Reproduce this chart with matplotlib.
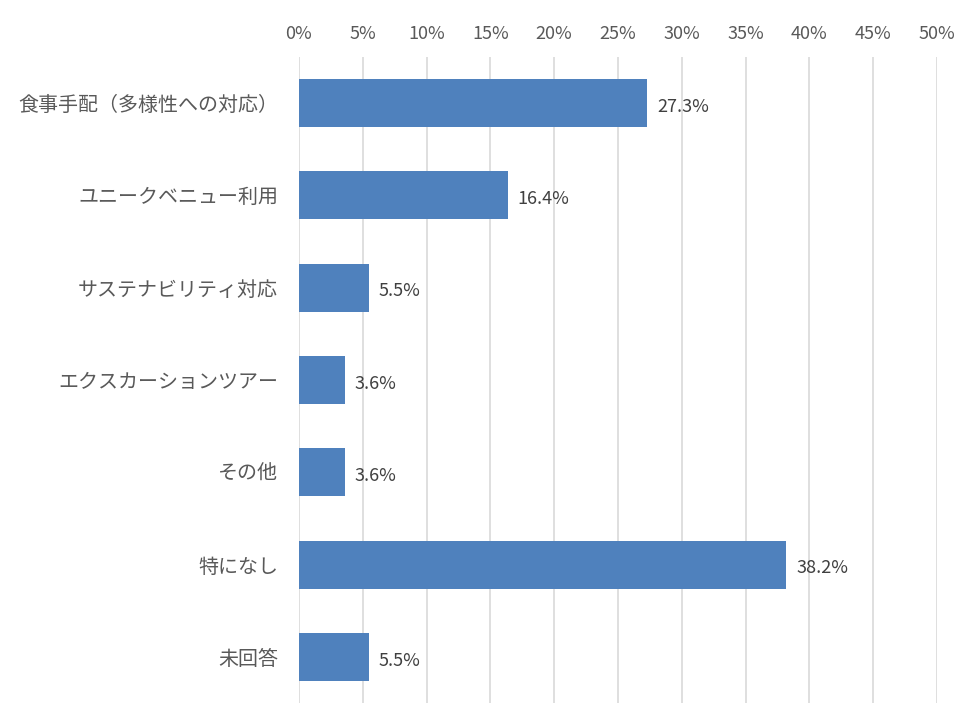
import matplotlib
matplotlib.use("Agg")
import matplotlib.pyplot as plt
from matplotlib.ticker import MultipleLocator, FuncFormatter

plt.rcParams['font.family'] = ['Noto Sans CJK JP', 'DejaVu Sans']

# survey answers, top to bottom
categories = [
    "食事手配（多様性への対応）",
    "ユニークベニュー利用",
    "サステナビリティ対応",
    "エクスカーションツアー",
    "その他",
    "特になし",
    "未回答",
]
shares = [27.3, 16.4, 5.5, 3.6, 3.6, 38.2, 5.5]

bar_color = "#4F81BD"
text_color = "#595959"
grid_color = "#D9D9D9"

fig = plt.figure(figsize=(9.66, 7.24), dpi=100)
ax = fig.add_axes([0.3095, 0.029, 0.6605, 0.8923])

ypos = list(range(len(categories)))
ax.barh(ypos, shares, height=0.52, color=bar_color, zorder=3)

for y, v in zip(ypos, shares):
    ax.text(v + 0.75, y + 0.04, f"{v:.1f}%", va="center", ha="left",
            fontsize=13, color="#404040")

ax.set_xlim(0, 50)
ax.set_ylim(len(categories) - 0.5, -0.5)
ax.set_yticks(ypos)
ax.set_yticklabels(categories, fontsize=14.4, color=text_color)

ax.xaxis.set_major_locator(MultipleLocator(5))
ax.xaxis.set_major_formatter(FuncFormatter(lambda x, _: f"{x:.0f}%"))
ax.xaxis.tick_top()
ax.tick_params(axis="x", length=0, pad=10, labelsize=13, labelcolor=text_color)
ax.tick_params(axis="y", length=0, pad=15)

ax.grid(axis="x", color=grid_color, linewidth=1.2, zorder=0)
for s in ax.spines.values():
    s.set_visible(False)

fig.savefig("out.png", dpi=100)
